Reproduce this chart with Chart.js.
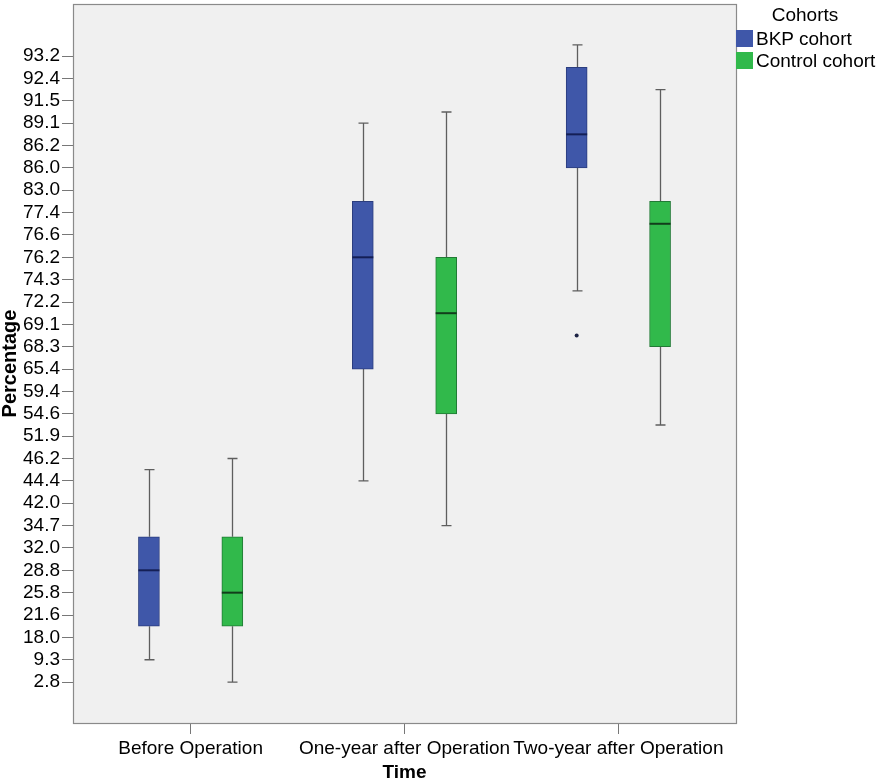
<!DOCTYPE html>
<html>
<head>
<meta charset="utf-8">
<script src="https://cdn.jsdelivr.net/npm/chart.js@4.4.1/dist/chart.umd.min.js"></script>
<style>
  html, body { margin:0; padding:0; background:#fff; }
  #wrap { position:relative; width:878px; height:781px; }
  canvas { position:absolute; left:0; top:0; }
  #legend { position:absolute; left:736px; top:0; width:142px; font-family:"Liberation Sans", Arial, sans-serif; font-size:19px; color:#000; }
  #legend .title { position:absolute; left:0; width:138px; top:4px; text-align:center; }
  #legend .item { position:absolute; left:0; height:18px; line-height:18px; white-space:nowrap; }
  #legend .sw { display:inline-block; width:17px; height:17px; vertical-align:top; margin-right:3px; }
</style>
</head>
<body>
<div id="wrap">
  <canvas id="c" width="878" height="781"></canvas>
  <div id="legend"></div>
</div>
<script>
// Categories on the x axis
const categories = ['Before Operation', 'One-year after Operation', 'Two-year after Operation'];
// Y axis is ordinal (equally spaced labels); values below are rank positions on that axis (0 = "2.8")
const yTickLabels = ['2.8','9.3','18.0','21.6','25.8','28.8','32.0','34.7','42.0','44.4','46.2','51.9','54.6','59.4','65.4','68.3','69.1','72.2','74.3','76.2','76.6','77.4','83.0','86.0','86.2','89.1','91.5','92.4','93.2'];
const seriesNames = ['BKP cohort', 'Control cohort'];

const bkpMin    = [1,   9,    17.5];
const bkpQ1     = [2.5, 14,   23];
const bkpMedian = [5,   19,   24.5];
const bkpQ3     = [6.5, 21.5, 27.5];
const bkpMax    = [9.5, 25,   28.5];
const bkpOutliers = [[], [], [15.5]];

const ctrlMin    = [0,   7,    11.5];
const ctrlQ1     = [2.5, 12,   15];
const ctrlMedian = [4,   16.5, 20.5];
const ctrlQ3     = [6.5, 19,   21.5];
const ctrlMax    = [10,  25.5, 26.5];
const ctrlOutliers = [[], [], []];

const GROUP_OFFSET = 0.195;
const BOX_PX = 21;
const CAP_PX = 10;
const FONT = '"Liberation Sans", Arial, sans-serif';

const series = [
  { name: seriesNames[0], off: -GROUP_OFFSET, min: bkpMin, q1: bkpQ1, med: bkpMedian, q3: bkpQ3, max: bkpMax, out: bkpOutliers,
    fill: '#3f57a9', border: '#2b3d7e', medColor: '#141f55' },
  { name: seriesNames[1], off: GROUP_OFFSET, min: ctrlMin, q1: ctrlQ1, med: ctrlMedian, q3: ctrlQ3, max: ctrlMax, out: ctrlOutliers,
    fill: '#31b94b', border: '#217a35', medColor: '#123d1b' }
];

const datasets = series.map(s => ({
  type: 'bar',
  label: s.name,
  data: categories.map((c, i) => ({ x: i + s.off, y: [s.q1[i], s.q3[i]] })),
  backgroundColor: s.fill,
  borderColor: s.border,
  borderWidth: 1,
  borderSkipped: false,
  barThickness: BOX_PX,
  grouped: false,
  order: 2
}));
series.forEach(s => {
  const pts = [];
  s.out.forEach((arr, i) => arr.forEach(v => pts.push({ x: i + s.off, y: v })));
  datasets.push({
    type: 'scatter', label: s.name + ' outliers', data: pts,
    pointRadius: 2, pointBackgroundColor: '#1c2244', pointBorderColor: '#1c2244', pointBorderWidth: 0, order: 1
  });
});

const boxPlugin = {
  id: 'boxParts',
  beforeDraw(chart) {
    const a = chart.chartArea, ctx = chart.ctx;
    ctx.save(); ctx.fillStyle = '#f0f0f0';
    ctx.fillRect(a.left, a.top, a.right - a.left, a.bottom - a.top);
    ctx.restore();
  },
  beforeDatasetsDraw(chart) {
    const ctx = chart.ctx, xs = chart.scales.x, ys = chart.scales.y;
    ctx.save();
    ctx.strokeStyle = '#5e5e5e'; ctx.lineWidth = 1.3;
    series.forEach(s => {
      categories.forEach((c, i) => {
        const px = Math.round(xs.getPixelForValue(i + s.off)) + 0.5;
        const yMin = ys.getPixelForValue(s.min[i]), yMax = ys.getPixelForValue(s.max[i]);
        const yQ1 = ys.getPixelForValue(s.q1[i]), yQ3 = ys.getPixelForValue(s.q3[i]);
        ctx.beginPath();
        ctx.moveTo(px, yQ3); ctx.lineTo(px, yMax);
        ctx.moveTo(px, yQ1); ctx.lineTo(px, yMin);
        ctx.moveTo(px - CAP_PX / 2, yMax); ctx.lineTo(px + CAP_PX / 2, yMax);
        ctx.moveTo(px - CAP_PX / 2, yMin); ctx.lineTo(px + CAP_PX / 2, yMin);
        ctx.stroke();
      });
    });
    ctx.restore();
  },
  afterDatasetsDraw(chart) {
    const ctx = chart.ctx, xs = chart.scales.x, ys = chart.scales.y, a = chart.chartArea;
    ctx.save();
    ctx.lineWidth = 2;
    series.forEach(s => {
      ctx.strokeStyle = s.medColor;
      categories.forEach((c, i) => {
        const px = xs.getPixelForValue(i + s.off);
        const y = ys.getPixelForValue(s.med[i]);
        ctx.beginPath();
        ctx.moveTo(px - BOX_PX / 2, y); ctx.lineTo(px + BOX_PX / 2, y);
        ctx.stroke();
      });
    });
    ctx.strokeStyle = '#8a8a8a'; ctx.lineWidth = 1.2;
    ctx.strokeRect(Math.round(a.left) + 0.5, Math.round(a.top) + 0.5, Math.round(a.right - a.left), Math.round(a.bottom - a.top));
    ctx.restore();
  }
};

Chart.defaults.font.family = FONT;
Chart.defaults.color = '#000';

function zeroPad(scale) {
  scale.paddingLeft = 0; scale.paddingRight = 0; scale.paddingTop = 0; scale.paddingBottom = 0;
}

new Chart(document.getElementById('c'), {
  type: 'bar',
  data: { datasets },
  options: {
    responsive: false,
    animation: false,
    devicePixelRatio: 1,
    layout: { padding: { left: 0, right: 142, top: 2, bottom: 0 } },
    plugins: { legend: { display: false }, tooltip: { enabled: false } },
    scales: {
      x: {
        type: 'linear',
        offset: false,
        min: -0.55, max: 2.55,
        afterBuildTicks(scale) { scale.ticks = categories.map((c, i) => ({ value: i })); },
        afterFit(scale) { scale.height = 58; zeroPad(scale); },
        ticks: { callback: (v) => categories[v], font: { size: 19 }, padding: 3, maxRotation: 0, autoSkip: false },
        grid: { drawOnChartArea: false, drawTicks: true, tickLength: 11, color: '#777', lineWidth: 1, offset: false },
        border: { display: true, color: '#8a8a8a' },
        title: { display: true, text: 'Time', font: { size: 19, weight: 'bold', lineHeight: 1 }, padding: { top: 0, bottom: -1 } }
      },
      y: {
        type: 'linear',
        min: -1.83, max: 30.33,
        afterBuildTicks(scale) { scale.ticks = yTickLabels.map((l, i) => ({ value: i })); },
        afterFit(scale) { scale.width = 73; zeroPad(scale); },
        ticks: { callback: (v) => yTickLabels[v], font: { size: 19 }, padding: 2, autoSkip: false },
        grid: { drawOnChartArea: false, drawTicks: true, tickLength: 11, color: '#777', lineWidth: 1 },
        border: { display: true, color: '#8a8a8a' },
        title: { display: true, text: 'Percentage', font: { size: 20, weight: 'bold', lineHeight: 1 }, padding: { top: 0, bottom: 0 } }
      }
    }
  },
  plugins: [boxPlugin]
});

// Legend (HTML text)
const lg = document.getElementById('legend');
const t = document.createElement('div'); t.className = 'title'; t.textContent = 'Cohorts'; lg.appendChild(t);
series.forEach((s, k) => {
  const it = document.createElement('div'); it.className = 'item';
  it.style.top = (30 + k * 21.5) + 'px';
  const sw = document.createElement('span'); sw.className = 'sw'; sw.style.background = s.fill;
  it.appendChild(sw); it.appendChild(document.createTextNode(s.name));
  lg.appendChild(it);
});
</script>
</body>
</html>
